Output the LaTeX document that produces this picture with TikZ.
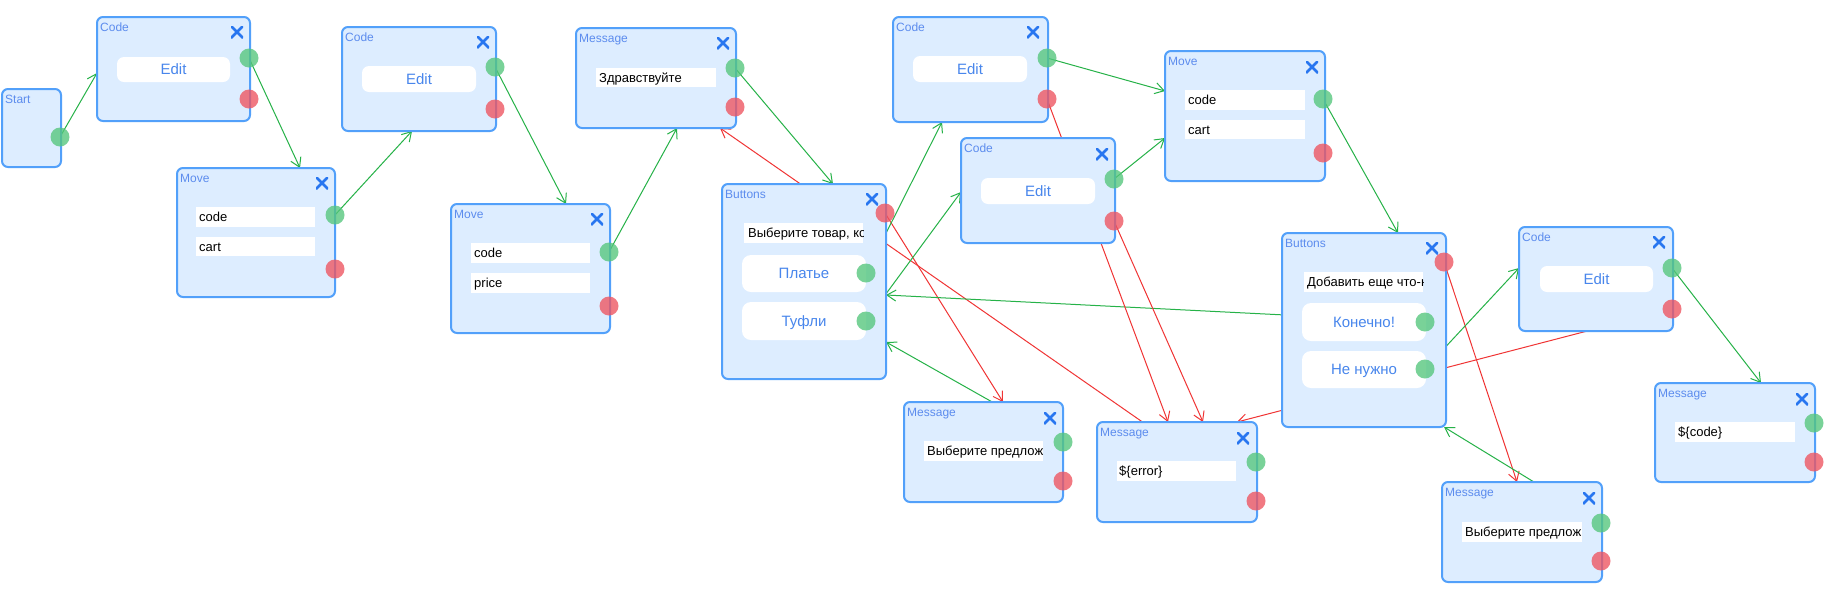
\documentclass[tikz,border=0pt]{standalone}
\usepackage{fontspec}
\setmainfont{Liberation Sans}
\usetikzlibrary{arrows.meta,calc}
\definecolor{boxfill}{RGB}{221,237,255}
\definecolor{boxline}{RGB}{82,160,250}
\definecolor{titlecol}{RGB}{92,140,238}
\definecolor{xcol}{RGB}{40,118,240}
\definecolor{btntext}{RGB}{72,134,236}
\definecolor{dotgreen}{RGB}{84,198,124}
\definecolor{dotred}{RGB}{238,84,96}
\definecolor{lgreen}{RGB}{38,178,72}
\definecolor{lred}{RGB}{240,52,52}
\pgfdeclarelayer{bg}
\pgfsetlayers{bg,main}
\tikzset{
  flowbox/.style={draw=boxline, fill=boxfill, line width=2pt, rounded corners=6pt, inner sep=0pt, outer sep=0pt, anchor=north west},
  title/.style={font=\fontsize{12}{14}\selectfont, text=titlecol, anchor=base west, inner sep=0pt},
  xbtn/.style={minimum size=12pt, inner sep=0pt, path picture={\draw[xcol, line width=2.6pt] (path picture bounding box.north west) -- (path picture bounding box.south east) (path picture bounding box.south west) -- (path picture bounding box.north east);}},
  gdot/.style={circle, fill=dotgreen, fill opacity=0.78, minimum size=19pt, inner sep=0pt},
  rdot/.style={circle, fill=dotred, fill opacity=0.78, minimum size=19pt, inner sep=0pt},
  btn/.style={fill=white, rounded corners=7pt, anchor=north west, inner sep=0pt, outer sep=0pt, font=\fontsize{15}{18}\selectfont, text=btntext, text height=10.7pt, text depth=0pt},
  field/.style={fill=white, anchor=north west, inner sep=0pt, outer sep=0pt},
  ftext/.style={anchor=base west, inner sep=0pt, font=\fontsize{13}{15}\selectfont, text=black},
  gline/.style={draw=lgreen, line width=1pt, -{Straight Barb[length=9pt,width=11pt]}},
  rline/.style={draw=lred, line width=1pt, -{Straight Barb[length=9pt,width=11pt]}}
}
\begin{document}
\begin{tikzpicture}[x=1pt,y=-1pt]
\begin{pgfonlayer}{bg}
\fill[white] (0,0) rectangle (1831,590);
\end{pgfonlayer}
\useasboundingbox (0,0) rectangle (1831,590);

% ---- Start
\node[flowbox, minimum width=59pt, minimum height=78pt] (start) at (2,89) {};
\node[title] (start-t) at ($(start.north west)+(3,14)$) {Start};
\node[gdot] (start-g) at (60,137) {};

% ---- Code 1
\node[flowbox, minimum width=153pt, minimum height=104pt] (code1) at (97,17) {};
\node[title] (code1-t) at ($(code1.north west)+(3,14)$) {Code};
\node[xbtn] (code1-x) at (237,32) {};
\node[btn, minimum width=113pt, minimum height=25pt] (code1-b) at (117,57) {Edit};
\node[gdot] (code1-g) at (249,58) {};
\node[rdot] (code1-r) at (249,99) {};

% ---- Move 1
\node[flowbox, minimum width=158pt, minimum height=129pt] (move1) at (177,168) {};
\node[title] (move1-t) at ($(move1.north west)+(3,14)$) {Move};
\node[xbtn] (move1-x) at (322,183) {};
\node[field, minimum width=119pt, minimum height=20pt] (move1-f1) at (196,207) {};
\node[ftext] (move1-f1t) at ($(move1-f1.west)+(3,4.5)$) {code};
\node[field, minimum width=119pt, minimum height=19pt] (move1-f2) at (196,237) {};
\node[ftext] (move1-f2t) at ($(move1-f2.west)+(3,4.5)$) {cart};
\node[gdot] (move1-g) at (335,215) {};
\node[rdot] (move1-r) at (335,269) {};

% ---- Code 2
\node[flowbox, minimum width=154pt, minimum height=104pt] (code2) at (342,27) {};
\node[title] (code2-t) at ($(code2.north west)+(3,14)$) {Code};
\node[xbtn] (code2-x) at (483,42) {};
\node[btn, minimum width=114pt, minimum height=26pt] (code2-b) at (362,66) {Edit};
\node[gdot] (code2-g) at (495,67) {};
\node[rdot] (code2-r) at (495,109) {};

% ---- Move 2
\node[flowbox, minimum width=159pt, minimum height=129pt] (move2) at (451,204) {};
\node[title] (move2-t) at ($(move2.north west)+(3,14)$) {Move};
\node[xbtn] (move2-x) at (597,219) {};
\node[field, minimum width=119pt, minimum height=20pt] (move2-f1) at (471,243) {};
\node[ftext] (move2-f1t) at ($(move2-f1.west)+(3,4.5)$) {code};
\node[field, minimum width=119pt, minimum height=20pt] (move2-f2) at (471,273) {};
\node[ftext] (move2-f2t) at ($(move2-f2.west)+(3,4.5)$) {price};
\node[gdot] (move2-g) at (609,252) {};
\node[rdot] (move2-r) at (609,306) {};

% ---- Message 1
\node[flowbox, minimum width=160pt, minimum height=100pt] (msg1) at (576,28) {};
\node[title] (msg1-t) at ($(msg1.north west)+(3,14)$) {Message};
\node[xbtn] (msg1-x) at (723,43) {};
\node[field, minimum width=120pt, minimum height=19pt] (msg1-f) at (596,68) {};
\node[ftext] (msg1-ft) at ($(msg1-f.west)+(3,4.5)$) {Здравствуйте};
\node[gdot] (msg1-g) at (735,68) {};
\node[rdot] (msg1-r) at (735,107) {};

% ---- Buttons 1
\node[flowbox, minimum width=164pt, minimum height=195pt] (btn1) at (722,184) {};
\node[title] (btn1-t) at ($(btn1.north west)+(3,14)$) {Buttons};
\node[xbtn] (btn1-x) at (872,199) {};
\node[field, minimum width=119pt, minimum height=20pt] (btn1-f) at (744,223) {};
\begin{scope}
\clip (btn1-f.north west) rectangle (btn1-f.south east);
\node[ftext] (btn1-ft) at ($(btn1-f.west)+(4,4.5)$) {Выберите товар, ко};
\end{scope}
\node[btn, minimum width=124pt, minimum height=37pt, rounded corners=9pt] (btn1-b1) at (742,255) {Платье};
\node[btn, minimum width=124pt, minimum height=38pt, rounded corners=9pt] (btn1-b2) at (742,302) {Туфли};
\node[rdot] (btn1-r) at (885,213) {};
\node[gdot] (btn1-g1) at (866,273) {};
\node[gdot] (btn1-g2) at (866,321) {};

% ---- Code 3
\node[flowbox, minimum width=155pt, minimum height=105pt] (code3) at (893,17) {};
\node[title] (code3-t) at ($(code3.north west)+(3,14)$) {Code};
\node[xbtn] (code3-x) at (1033,32) {};
\node[btn, minimum width=114pt, minimum height=26pt] (code3-b) at (913,56) {Edit};
\node[gdot] (code3-g) at (1047,58) {};
\node[rdot] (code3-r) at (1047,99) {};

% ---- Code 4
\node[flowbox, minimum width=154pt, minimum height=105pt] (code4) at (961,138) {};
\node[title] (code4-t) at ($(code4.north west)+(3,14)$) {Code};
\node[xbtn] (code4-x) at (1102,154) {};
\node[btn, minimum width=114pt, minimum height=26pt] (code4-b) at (981,178) {Edit};
\node[gdot] (code4-g) at (1114,179) {};
\node[rdot] (code4-r) at (1114,221) {};

% ---- Move 3
\node[flowbox, minimum width=160pt, minimum height=130pt] (move3) at (1165,51) {};
\node[title] (move3-t) at ($(move3.north west)+(3,14)$) {Move};
\node[xbtn] (move3-x) at (1312,67) {};
\node[field, minimum width=120pt, minimum height=20pt] (move3-f1) at (1185,90) {};
\node[ftext] (move3-f1t) at ($(move3-f1.west)+(3,4.5)$) {code};
\node[field, minimum width=120pt, minimum height=19pt] (move3-f2) at (1185,120) {};
\node[ftext] (move3-f2t) at ($(move3-f2.west)+(3,4.5)$) {cart};
\node[gdot] (move3-g) at (1323,99) {};
\node[rdot] (move3-r) at (1323,153) {};

% ---- Message 3
\node[flowbox, minimum width=159pt, minimum height=100pt] (msg3) at (904,402) {};
\node[title] (msg3-t) at ($(msg3.north west)+(3,14)$) {Message};
\node[xbtn] (msg3-x) at (1050,418) {};
\node[field, minimum width=119pt, minimum height=20pt] (msg3-f) at (924,441) {};
\begin{scope}
\clip (msg3-f.north west) rectangle (msg3-f.south east);
\node[ftext] (msg3-ft) at ($(msg3-f.west)+(3,4.5)$) {Выберите предлож};
\end{scope}
\node[gdot] (msg3-g) at (1063,442) {};
\node[rdot] (msg3-r) at (1063,481) {};

% ---- Message error
\node[flowbox, minimum width=160pt, minimum height=100pt] (msgerr) at (1097,422) {};
\node[title] (msgerr-t) at ($(msgerr.north west)+(3,14)$) {Message};
\node[xbtn] (msgerr-x) at (1243,438) {};
\node[field, minimum width=119pt, minimum height=20pt] (msgerr-f) at (1117,461) {};
\node[ftext] (msgerr-ft) at ($(msgerr-f.west)+(2,4.5)$) {\$\{error\}};
\node[gdot] (msgerr-g) at (1256,462) {};
\node[rdot] (msgerr-r) at (1256,501) {};

% ---- Buttons 2
\node[flowbox, minimum width=164pt, minimum height=194pt] (btn2) at (1282,233) {};
\node[title] (btn2-t) at ($(btn2.north west)+(3,14)$) {Buttons};
\node[xbtn] (btn2-x) at (1432,248) {};
\node[field, minimum width=119pt, minimum height=20pt] (btn2-f) at (1304,272) {};
\begin{scope}
\clip (btn2-f.north west) rectangle (btn2-f.south east);
\node[ftext] (btn2-ft) at ($(btn2-f.west)+(3,4.5)$) {Добавить еще что-н};
\end{scope}
\node[btn, minimum width=124pt, minimum height=38pt, rounded corners=9pt] (btn2-b1) at (1302,303) {Конечно!};
\node[btn, minimum width=124pt, minimum height=37pt, rounded corners=9pt] (btn2-b2) at (1302,351) {Не нужно};
\node[rdot] (btn2-r) at (1444,262) {};
\node[gdot] (btn2-g1) at (1425,322) {};
\node[gdot] (btn2-g2) at (1425,369) {};

% ---- Code 5
\node[flowbox, minimum width=154pt, minimum height=104pt] (code5) at (1519,227) {};
\node[title] (code5-t) at ($(code5.north west)+(3,14)$) {Code};
\node[xbtn] (code5-x) at (1659,242) {};
\node[btn, minimum width=113pt, minimum height=26pt] (code5-b) at (1540,266) {Edit};
\node[gdot] (code5-g) at (1672,268) {};
\node[rdot] (code5-r) at (1672,309) {};

% ---- Message 4
\node[flowbox, minimum width=160pt, minimum height=100pt] (msg4) at (1442,482) {};
\node[title] (msg4-t) at ($(msg4.north west)+(3,14)$) {Message};
\node[xbtn] (msg4-x) at (1589,498) {};
\node[field, minimum width=120pt, minimum height=20pt] (msg4-f) at (1462,522) {};
\begin{scope}
\clip (msg4-f.north west) rectangle (msg4-f.south east);
\node[ftext] (msg4-ft) at ($(msg4-f.west)+(3,4.5)$) {Выберите предлож};
\end{scope}
\node[gdot] (msg4-g) at (1601,523) {};
\node[rdot] (msg4-r) at (1601,561) {};

% ---- Message 5
\node[flowbox, minimum width=160pt, minimum height=99pt] (msg5) at (1655,383) {};
\node[title] (msg5-t) at ($(msg5.north west)+(3,14)$) {Message};
\node[xbtn] (msg5-x) at (1802,399) {};
\node[field, minimum width=120pt, minimum height=20pt] (msg5-f) at (1675,422) {};
\node[ftext] (msg5-ft) at ($(msg5-f.west)+(3,4.5)$) {\$\{code\}};
\node[gdot] (msg5-g) at (1814,423) {};
\node[rdot] (msg5-r) at (1814,462) {};

% ---- Connectors (behind the boxes)
\begin{pgfonlayer}{bg}
\draw[gline] (start-g.center) -- ($(code1.north west)+(0,56)$);
\draw[gline] (code1-g.center) -- ($(move1.north west)+(123,0)$);
\draw[gline] (move1-g.center) -- ($(code2.south west)+(70,0)$);
\draw[gline] (code2-g.center) -- ($(move2.north west)+(115,0)$);
\draw[gline] (move2-g.center) -- ($(msg1.south west)+(101,0)$);
\draw[gline] (msg1-g.center) -- ($(btn1.north west)+(111,0)$);
\draw[rline] (msgerr-r.center) -- ($(msg1.south west)+(144,0)$);
\draw[rline] (btn1-r.center) -- ($(msg3.north west)+(99,0)$);
\draw[gline] (btn1-g1.center) -- ($(code3.south west)+(49,0)$);
\draw[gline] (btn1-g2.center) -- ($(code4.north west)+(0,54)$);
\draw[gline] (btn2-g1.center) -- ($(btn1.north east)+(0,111)$);
\draw[gline] (msg3-g.center) -- ($(btn1.north east)+(0,158)$);
\draw[gline] (code3-g.center) -- ($(move3.north west)+(0,40)$);
\draw[gline] (code4-g.center) -- ($(move3.north west)+(0,87)$);
\draw[rline] (code3-r.center) -- ($(msgerr.north west)+(71,0)$);
\draw[rline] (code4-r.center) -- ($(msgerr.north west)+(106,0)$);
\draw[rline] (code5-r.center) -- ($(msgerr.north west)+(140,0)$);
\draw[gline] (move3-g.center) -- ($(btn2.north west)+(116,0)$);
\draw[rline] (btn2-r.center) -- ($(msg4.north west)+(75,0)$);
\draw[gline] (btn2-g2.center) -- ($(code5.north west)+(0,41)$);
\draw[gline] (msg4-g.center) -- ($(btn2.south east)+(-2,0)$);
\draw[gline] (code5-g.center) -- ($(msg5.north west)+(106,0)$);
\end{pgfonlayer}
\end{tikzpicture}
\end{document}
